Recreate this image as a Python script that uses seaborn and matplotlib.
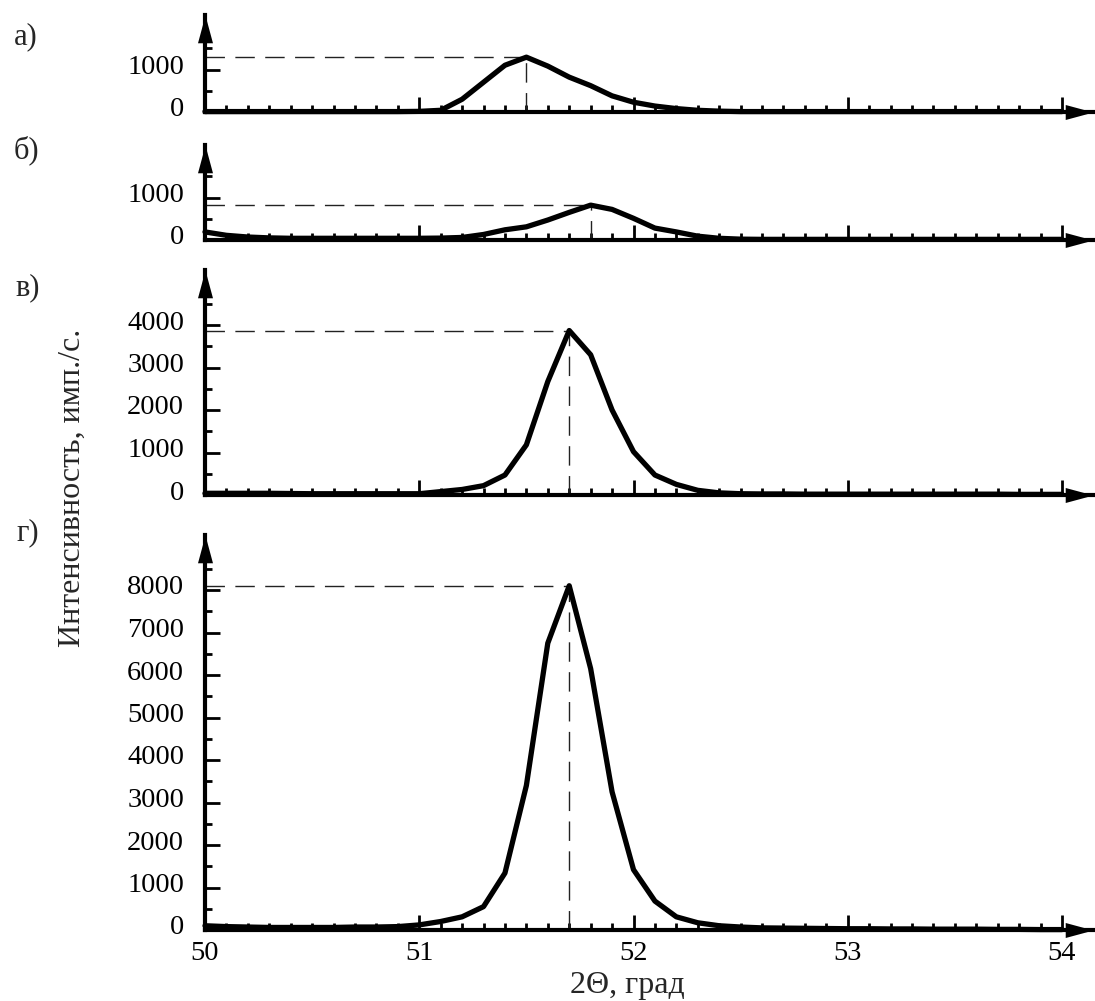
import numpy as np
import pandas as pd
import matplotlib
matplotlib.use("Agg")
import matplotlib.pyplot as plt
from matplotlib.ticker import FixedLocator, NullFormatter
from matplotlib.transforms import ScaledTranslation
import seaborn as sns

# 2theta grid, step 0.1 deg
two_theta = np.round(np.arange(50.0, 54.01, 0.1), 1)

# intensities (imp/s)
int_a = [10, 10, 10, 10, 10, 10, 10, 10, 10, 10,
         15, 40, 300, 700, 1100, 1290, 1080, 820, 620, 380,
         230, 140, 80, 40, 20, 10, 10, 10, 10, 10,
         10, 10, 10, 10, 10, 10, 10, 10, 10, 10, 10]
int_b = [190, 110, 70, 50, 40, 40, 40, 40, 40, 40,
         40, 45, 60, 130, 240, 310, 470, 650, 820, 720,
         510, 280, 190, 90, 40, 20, 15, 15, 15, 15,
         15, 15, 15, 15, 15, 15, 15, 15, 15, 15, 15]
int_v = [40, 40, 40, 40, 35, 30, 30, 30, 30, 30,
         30, 80, 130, 220, 470, 1180, 2670, 3870, 3300, 2000,
         1020, 470, 250, 110, 50, 30, 25, 25, 20, 20,
         20, 20, 20, 20, 20, 20, 20, 20, 15, 15, 15]
int_g = [100, 80, 70, 60, 60, 60, 60, 70, 70, 80,
         120, 200, 310, 550, 1340, 3400, 6750, 8100, 6150, 3250,
         1420, 680, 310, 170, 100, 70, 50, 45, 40, 35,
         30, 30, 25, 25, 20, 20, 20, 15, 15, 10, 10]

panel_names = ["а)", "б)", "в)", "г)"]
panel_data = [int_a, int_b, int_v, int_g]
y_tick_labels = [[0, 1000], [0, 1000], [0, 1000, 2000, 3000, 4000],
                 [0, 1000, 2000, 3000, 4000, 5000, 6000, 7000, 8000]]
y_top_tick = [1500, 1500, 4500, 8500]
x_tick_labels = [50, 51, 52, 53, 54]

# layout in pixels (arrow tip, baseline)
W, H = 1095, 1001
x_left, x_right = 205, 1093
px_per_deg = 214.25
px_per_1000 = 42.5
panel_px = [(15, 112), (145, 240), (270, 495), (535, 930)]
label_px = [(26, 37), (26, 150), (28, 288), (28, 533)]

sns.set_theme(style="ticks")
plt.rcParams["font.family"] = ["Liberation Serif", "DejaVu Serif"]

fig = plt.figure(figsize=(W / 100, H / 100), dpi=100)

x_arrow = [(0, 0), (-1, 0.27), (-1, -0.27), (0, 0)]
y_arrow = [(0, 0), (-0.27, -1), (0.27, -1), (0, 0)]

for i, (top, base) in enumerate(panel_px):
    ax = fig.add_axes([x_left / W, 1 - base / H,
                       (x_right - x_left) / W, (base - top) / H])
    df = pd.DataFrame({"theta": two_theta, "I": panel_data[i]})

    # dashed guides to the peak
    k = int(np.argmax(df["I"]))
    px, py = df["theta"][k], df["I"][k]
    ax.plot([50, px], [py, py], color="#222222", lw=1.0,
            ls=(0, (14, 7.5)), zorder=1)
    ax.plot([px, px], [0, py], color="#222222", lw=1.0,
            ls=(0, (14, 7.5)), zorder=1)

    sns.lineplot(data=df, x="theta", y="I", ax=ax, color="black",
                 linewidth=3.8, zorder=3)
    for ln in ax.lines:
        ln.set_clip_on(False)

    ax.set_xlim(50, 50 + (x_right - x_left) / px_per_deg)
    ax.set_ylim(0, (base - top) / px_per_1000 * 1000)

    sns.despine(ax=ax)
    for side in ("left", "bottom"):
        ax.spines[side].set_linewidth(3)
        ax.spines[side].set_color("black")

    ax.xaxis.set_major_locator(FixedLocator(x_tick_labels))
    ax.xaxis.set_minor_locator(FixedLocator(
        [v for v in np.round(np.arange(50.0, 54.01, 0.1), 1) if v not in x_tick_labels]))
    ax.yaxis.set_major_locator(FixedLocator(y_tick_labels[i]))
    ax.yaxis.set_minor_locator(FixedLocator(np.arange(500, y_top_tick[i] + 1, 1000)))
    ax.tick_params(axis="both", which="major", direction="in", length=11,
                   width=2, color="black", labelsize=20.5, labelcolor="black")
    ax.tick_params(axis="both", which="minor", direction="in", length=5,
                   width=2, color="black")
    ax.tick_params(axis="y", which="major", pad=15)
    ax.tick_params(axis="x", which="major", pad=8)
    if i < 3:
        ax.xaxis.set_major_formatter(NullFormatter())
    for lab in ax.get_yticklabels():
        lab.set_transform(lab.get_transform() +
                          ScaledTranslation(0, 5 / 100, fig.dpi_scale_trans))

    ax.set_xlabel("")
    ax.set_ylabel("")
    ax.set_facecolor("white")

    # axis arrows
    ax.plot(1, 0, marker=x_arrow, ms=40, color="black", mew=0,
            transform=ax.transAxes, clip_on=False, zorder=5)
    ax.plot(0, 1, marker=y_arrow, ms=40, color="black", mew=0,
            transform=ax.transAxes, clip_on=False, zorder=5)

    lx, ly = label_px[i]
    fig.text(lx / W, 1 - ly / H, panel_names[i], fontsize=22,
             ha="center", va="center")

fig.text(72 / W, 1 - 488 / H, "Интенсивность, имп./с.", fontsize=23,
         rotation=90, ha="center", va="center")
fig.text(627 / W, 1 - 986 / H, "2Θ, град", fontsize=23,
         ha="center", va="center")

fig.savefig("out.png", dpi=100, facecolor="white")
